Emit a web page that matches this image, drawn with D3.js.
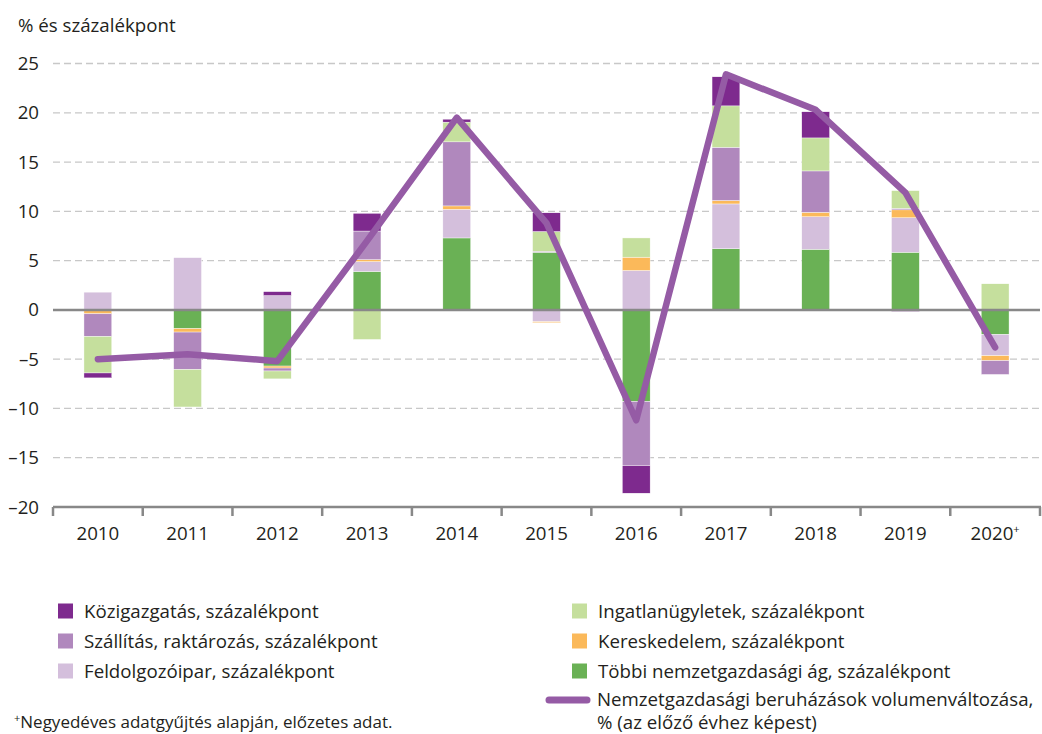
<!DOCTYPE html>
<html lang="hu">
<head>
    <meta charset="UTF-8">
    <title>Beruházások</title>
    <script src="https://cdn.jsdelivr.net/npm/d3@7"></script>
    <style>
        body { margin: 0; padding: 0; background: #fff; }
        svg { font-family: "Open Sans", "Noto Sans", sans-serif; fill: #231f20; }
    </style>
</head>
<body>
    <div id="chart"></div>
    <script>
        // évek
        var years = ["2010", "2011", "2012", "2013", "2014", "2015", "2016", "2017", "2018", "2019", "2020"];

        // ágak hozzájárulása, százalékpont
        var tobbi      = [0,    -1.9, -5.7,  3.9, 7.3,  5.85, -9.3, 6.2,  6.15, 5.85, -2.5];
        var feldolgozo = [1.8,   5.3,  1.45, 1.0, 2.9, -1.2,   4.0, 4.55, 3.3,  3.5,  -2.15];
        var keresk     = [-0.4, -0.35, -0.2, 0.2, 0.35, -0.1,  1.35, 0.35, 0.45, 0.8, -0.5];
        var szallitas  = [-2.3, -3.8, -0.3,  2.9, 6.5,  0.1,  -6.5, 5.4,  4.2,  0.15, -1.4];
        var ingatlan   = [-3.7, -3.8, -0.8, -3.0, 2.0,  2.0,   1.95, 4.2, 3.35, 1.8,  2.65];
        var kozig      = [-0.5,  0,    0.4,  1.8, 0.3,  1.9,  -2.8, 2.95, 2.65, -0.15, 0];

        // nemzetgazdasági beruházások volumenváltozása, %
        var volumen = [-5.0, -4.5, -5.2, 7.0, 19.5, 8.8, -11.2, 23.9, 20.3, 11.9, -3.8];

        var yTicks = [25, 20, 15, 10, 5, 0, -5, -10, -15, -20];

        var series = [
            { key: "tobbi", values: tobbi, color: "#6ab155", name: "Többi nemzetgazdasági ág, százalékpont" },
            { key: "feldolgozo", values: feldolgozo, color: "#d4bfdc", name: "Feldolgozóipar, százalékpont" },
            { key: "keresk", values: keresk, color: "#fbb95a", name: "Kereskedelem, százalékpont" },
            { key: "szallitas", values: szallitas, color: "#b088bd", name: "Szállítás, raktározás, százalékpont" },
            { key: "ingatlan", values: ingatlan, color: "#c5df9d", name: "Ingatlanügyletek, százalékpont" },
            { key: "kozig", values: kozig, color: "#7e2a8e", name: "Közigazgatás, százalékpont" }
        ];

        var table = years.map(function (y, i) {
            var row = { year: y };
            series.forEach(function (s) { row[s.key] = s.values[i]; });
            return row;
        });

        var width = 1042, height = 734;
        var fs = 18.7;
        var svg = d3.select("#chart").append("svg")
            .attr("width", width)
            .attr("height", height);

        var x = d3.scaleBand()
            .domain(years)
            .range([53, 1040])
            .paddingInner(0.69)
            .paddingOuter(0.345);

        var y = d3.scaleLinear()
            .domain([-20, 25])
            .range([507, 63.5]);

        // címke
        svg.append("text")
            .attr("x", 18).attr("y", 32)
            .attr("font-size", fs)
            .text("% és százalékpont");

        // rácsvonalak
        svg.append("g")
            .selectAll("line")
            .data(yTicks.filter(function (d) { return d !== 0 && d !== -20; }))
            .enter().append("line")
            .attr("x1", 53).attr("x2", 1040)
            .attr("y1", function (d) { return y(d); })
            .attr("y2", function (d) { return y(d); })
            .attr("stroke", "#c8c8c8")
            .attr("stroke-width", 1.3)
            .attr("stroke-dasharray", "7,4");

        // y tengely feliratai
        svg.append("g")
            .selectAll("text")
            .data(yTicks)
            .enter().append("text")
            .attr("x", 39)
            .attr("y", function (d) { return y(d) + 6.5; })
            .attr("text-anchor", "end")
            .attr("font-size", fs)
            .text(function (d) { return d < 0 ? "–" + Math.abs(d) : d; });

        // oszlopok
        var stack = d3.stack()
            .keys(series.map(function (s) { return s.key; }))
            .offset(d3.stackOffsetDiverging);

        var layers = stack(table);

        svg.append("g")
            .selectAll("g")
            .data(layers)
            .enter().append("g")
            .attr("fill", function (d, i) { return series[i].color; })
            .selectAll("rect")
            .data(function (d) { return d; })
            .enter().append("rect")
            .attr("x", function (d) { return x(d.data.year); })
            .attr("width", x.bandwidth())
            .attr("y", function (d) { return y(Math.max(d[0], d[1])); })
            .attr("height", function (d) { return Math.abs(y(d[0]) - y(d[1])); })
            .attr("stroke", "#fff")
            .attr("stroke-width", 0.4);

        // nulla vonal
        svg.append("line")
            .attr("x1", 53).attr("x2", 1040)
            .attr("y1", y(0)).attr("y2", y(0))
            .attr("stroke", "#888")
            .attr("stroke-width", 2.5);

        // x tengely
        var xAxis = svg.append("g");
        xAxis.append("line")
            .attr("x1", 53).attr("x2", 1041)
            .attr("y1", y(-20)).attr("y2", y(-20))
            .attr("stroke", "#888")
            .attr("stroke-width", 2.5);

        var step = x.step();
        xAxis.selectAll(".tick")
            .data(d3.range(years.length + 1))
            .enter().append("line")
            .attr("x1", function (i) { return 53 + i * step; })
            .attr("x2", function (i) { return 53 + i * step; })
            .attr("y1", y(-20)).attr("y2", y(-20) + 9)
            .attr("stroke", "#888")
            .attr("stroke-width", 2.5);

        var yearLabels = xAxis.selectAll(".yl")
            .data(years)
            .enter().append("text")
            .attr("x", function (d) { return x(d) + x.bandwidth() / 2; })
            .attr("y", 540)
            .attr("text-anchor", "middle")
            .attr("font-size", fs)
            .text(function (d) { return d; });
        yearLabels.filter(function (d) { return d === "2020"; })
            .append("tspan")
            .attr("font-size", 11)
            .attr("dy", -7)
            .text("+");

        // vonal
        var line = d3.line()
            .x(function (d, i) { return x(years[i]) + x.bandwidth() / 2; })
            .y(function (d) { return y(d); });

        svg.append("path")
            .datum(volumen)
            .attr("d", line)
            .attr("fill", "none")
            .attr("stroke", "#955ba5")
            .attr("stroke-width", 6.5)
            .attr("stroke-linecap", "round")
            .attr("stroke-linejoin", "round");

        // jelmagyarázat
        var legendLeft = [series[5], series[3], series[1]];
        var legendRight = [series[4], series[2], series[0]];

        function legendCol(items, sx, tx) {
            var g = svg.append("g");
            var row = g.selectAll("g")
                .data(items)
                .enter().append("g")
                .attr("transform", function (d, i) { return "translate(0," + (611 + i * 30) + ")"; });
            row.append("rect")
                .attr("x", sx).attr("y", -7.5)
                .attr("width", 15).attr("height", 15)
                .attr("fill", function (d) { return d.color; });
            row.append("text")
                .attr("x", tx).attr("y", 6.5)
                .attr("font-size", fs)
                .text(function (d) { return d.name; });
        }
        legendCol(legendLeft, 58, 84);
        legendCol(legendRight, 572, 598);

        svg.append("line")
            .attr("x1", 549).attr("x2", 587)
            .attr("y1", 700).attr("y2", 700)
            .attr("stroke", "#955ba5")
            .attr("stroke-width", 7)
            .attr("stroke-linecap", "round");
        svg.append("text")
            .attr("x", 597).attr("y", 705.5)
            .attr("font-size", fs)
            .text("Nemzetgazdasági beruházások volumenváltozása,");
        svg.append("text")
            .attr("x", 597).attr("y", 728.5)
            .attr("font-size", fs)
            .text("% (az előző évhez képest)");

        // lábjegyzet
        var foot = svg.append("text")
            .attr("x", 14).attr("y", 728)
            .attr("font-size", 17);
        foot.append("tspan")
            .attr("font-size", 11)
            .attr("dy", -6)
            .text("+");
        foot.append("tspan")
            .attr("dy", 6)
            .text("Negyedéves adatgyűjtés alapján, előzetes adat.");
    </script>
</body>
</html>
